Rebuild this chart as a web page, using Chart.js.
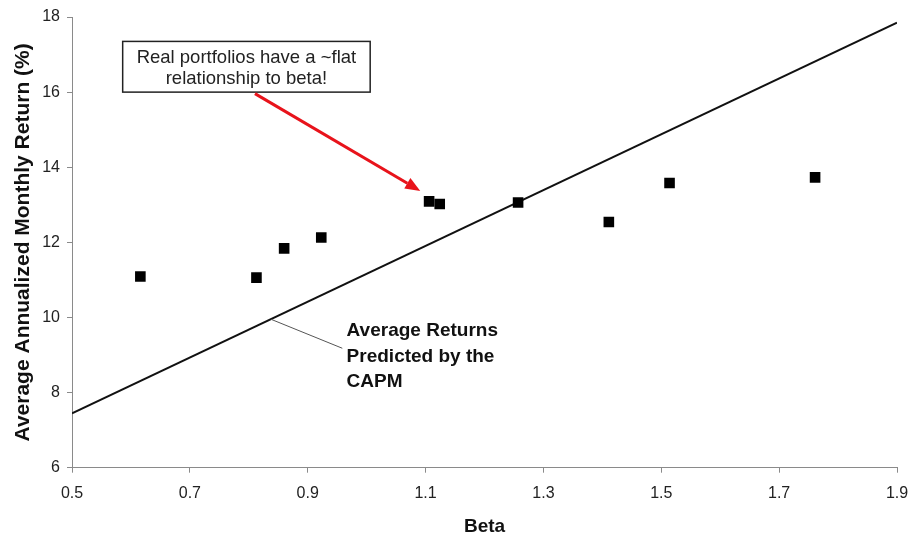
<!DOCTYPE html>
<html>
<head>
<meta charset="utf-8">
<script src="https://cdn.jsdelivr.net/npm/chart.js@4.4.0/dist/chart.umd.min.js"></script>
<style>
  html, body { margin: 0; padding: 0; background: #fff; }
  #wrap { width: 912px; height: 534px; }
</style>
</head>
<body>
<div id="wrap"><canvas id="myChart" width="912" height="534"></canvas></div>
<script>
// portfolio betas and average returns
const betas = [0.616, 0.813, 0.860, 0.923, 1.106, 1.124, 1.257, 1.411, 1.514, 1.761];
const returns = [11.09, 11.06, 11.84, 12.13, 13.09, 13.02, 13.06, 12.54, 13.58, 13.73];

// CAPM security market line end points
const capmBeta = [0.5, 1.9];
const capmReturn = [7.45, 17.85];

const xTicks = [0.5, 0.7, 0.9, 1.1, 1.3, 1.5, 1.7, 1.9];
const yTicks = [6, 8, 10, 12, 14, 16, 18];

const boxLines = ['Real portfolios have a ~flat', 'relationship to beta!'];
const capmLines = ['Average Returns', 'Predicted by the', 'CAPM'];

const ctx = document.getElementById('myChart');

// draws the callout box, red arrow and the CAPM label
const notes = {
    id: 'notes',
    afterDatasetsDraw(chart) {
        const c = chart.ctx;
        const xs = chart.scales.x, ys = chart.scales.y;
        const px = v => xs.getPixelForValue(v);
        const py = v => ys.getPixelForValue(v);
        c.save();

        // text box
        const bx1 = px(0.586), by1 = py(17.35), bx2 = px(1.006), by2 = py(16.0);
        c.fillStyle = '#fff';
        c.fillRect(bx1, by1, bx2 - bx1, by2 - by1);
        c.strokeStyle = '#222';
        c.lineWidth = 1.5;
        c.strokeRect(bx1, by1, bx2 - bx1, by2 - by1);
        c.fillStyle = '#222';
        c.font = '18.5px "Liberation Sans", Arial, sans-serif';
        c.textAlign = 'center';
        c.textBaseline = 'middle';
        boxLines.forEach((t, i) => c.fillText(t, (bx1 + bx2) / 2, by1 + 16 + i * 21.5));

        // red arrow
        const ax1 = px(0.8105), ay1 = py(15.96), ax2 = px(1.091), ay2 = py(13.37);
        const ang = Math.atan2(ay2 - ay1, ax2 - ax1);
        const hl = 15, hw = 6;
        c.strokeStyle = '#e8131b';
        c.fillStyle = '#e8131b';
        c.lineWidth = 3;
        c.beginPath();
        c.moveTo(ax1, ay1);
        c.lineTo(ax2 - hl * Math.cos(ang), ay2 - hl * Math.sin(ang));
        c.stroke();
        c.beginPath();
        c.moveTo(ax2, ay2);
        c.lineTo(ax2 - hl * Math.cos(ang) + hw * Math.sin(ang), ay2 - hl * Math.sin(ang) - hw * Math.cos(ang));
        c.lineTo(ax2 - hl * Math.cos(ang) - hw * Math.sin(ang), ay2 - hl * Math.sin(ang) + hw * Math.cos(ang));
        c.closePath();
        c.fill();

        // leader line to CAPM label
        c.strokeStyle = '#555';
        c.lineWidth = 1;
        c.beginPath();
        c.moveTo(px(0.838), py(9.95));
        c.lineTo(px(0.9587), py(9.18));
        c.stroke();

        c.fillStyle = '#111';
        c.font = 'bold 19px "Liberation Sans", Arial, sans-serif';
        c.textAlign = 'left';
        const lx = px(0.966), ly = py(9.64);
        capmLines.forEach((t, i) => c.fillText(t, lx, ly + i * 25.3));
        c.restore();
    }
};

const axisFont = { family: '"Liberation Sans", Arial, sans-serif', size: 16 };

new Chart(ctx, {
    type: 'scatter',
    data: {
        datasets: [{
            label: 'CAPM',
            data: capmBeta.map((b, i) => ({ x: b, y: capmReturn[i] })),
            showLine: true,
            borderColor: '#111',
            borderWidth: 2,
            pointRadius: 0,
            order: 2
        }, {
            label: 'Portfolios',
            data: betas.map((b, i) => ({ x: b, y: returns[i] })),
            pointStyle: 'rect',
            pointRadius: 7.5,
            backgroundColor: '#000',
            borderColor: '#000',
            borderWidth: 0,
            order: 1
        }]
    },
    options: {
        responsive: false,
        animation: false,
        layout: { padding: { top: 17, right: 15, left: 0, bottom: 0 } },
        plugins: {
            legend: { display: false },
            tooltip: { enabled: false }
        },
        scales: {
            x: {
                type: 'linear',
                min: 0.5,
                max: 1.9,
                afterBuildTicks: s => { s.ticks = xTicks.map(v => ({ value: v })); },
                afterFit: s => { s.height = 66.3; s.paddingRight = 0; s.paddingLeft = 0; },
                border: { color: '#8a8a8a', width: 1 },
                grid: { drawOnChartArea: false, drawTicks: true, tickLength: 5, color: '#8a8a8a' },
                ticks: { color: '#222', font: axisFont, padding: 11, maxRotation: 0, callback: v => v.toFixed(1) },
                title: {
                    display: true,
                    text: 'Beta',
                    color: '#111',
                    font: { family: '"Liberation Sans", Arial, sans-serif', size: 19, weight: 'bold', lineHeight: 0.8 },
                    padding: { top: 0, bottom: 0 }
                }
            },
            y: {
                type: 'linear',
                min: 6,
                max: 18,
                afterBuildTicks: s => { s.ticks = yTicks.map(v => ({ value: v })); },
                afterFit: s => { s.width = 72; },
                border: { color: '#8a8a8a', width: 1 },
                grid: { drawOnChartArea: false, drawTicks: true, tickLength: 5, color: '#8a8a8a' },
                ticks: { color: '#222', font: axisFont, padding: 7, callback: v => String(v) },
                title: {
                    display: true,
                    text: 'Average Annualized Monthly Return (%)',
                    color: '#111',
                    font: { family: '"Liberation Sans", Arial, sans-serif', size: 21, weight: 'bold', lineHeight: 1.2 },
                    padding: { top: 11, bottom: 0 }
                }
            }
        }
    },
    plugins: [notes]
});
</script>
</body>
</html>
